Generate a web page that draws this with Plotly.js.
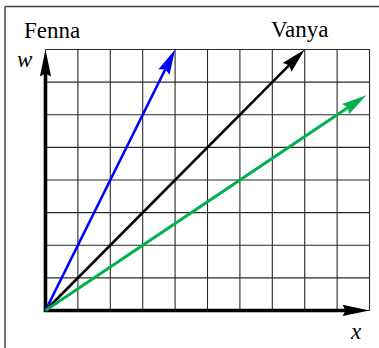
<!DOCTYPE html>
<html><head><meta charset="utf-8">
<script src="https://cdn.plot.ly/plotly-3.0.1.min.js"></script>
<style>html,body{margin:0;padding:0;background:#fff;} #chart{width:379px;height:348px;}</style>
</head><body><div id="chart"></div>
<script>
// ---- data ----
const vectorNames = ['Fenna', 'Vanya', 'Third'];
const vectorX = [4, 8, 9.9];
const vectorY = [8, 8, 6.6];
const vectorColors = ['#0000ff', '#000000', '#00b050'];
const vectorWidths = [2.6, 2.6, 3];
const gridX = [0, 1, 2, 3, 4, 5, 6, 7, 8, 9, 10];
const gridY = [0, 1, 2, 3, 4, 5, 6, 7, 8];
const xAxisLabel = 'x';
const yAxisLabel = 'w';
const nameLabels = ['Fenna', 'Vanya'];

// ---- layout geometry ----
const W = 379, H = 348;
const xMax = gridX[gridX.length - 1], yMax = gridY[gridY.length - 1];
const pad = 0.2;
const plotL = 45, plotR = 369.3, plotT = 50, plotB = 310.7;
const kx = (plotR - plotL) / xMax, ky = (plotB - plotT) / yMax;
const margin = {l: plotL - pad * kx, r: W - plotR - pad * kx, t: plotT - pad * ky, b: H - plotB - pad * ky, pad: 0};
const pw = W - margin.l - margin.r, ph = H - margin.t - margin.b;
const px2paperX = px => (px - margin.l) / pw;
const py2paperY = py => (H - margin.b - py) / ph;

function headGeom(x0, y0, x1, y1, L, h, notch) {
  const dx = (x1 - x0) * kx, dy = -(y1 - y0) * ky;
  const len = Math.hypot(dx, dy), ux = dx / len, uy = dy / len;
  const nx = -uy, ny = ux;
  const off = [[0, 0], [-L * ux + h * nx, -L * uy + h * ny], [-(L - notch) * ux, -(L - notch) * uy], [-L * ux - h * nx, -L * uy - h * ny]];
  const pts = off.map(p => [x1 + p[0] / kx, y1 - p[1] / ky]);
  const path = 'M' + pts.map(p => p[0] + ',' + p[1]).join(' L') + ' Z';
  return {path: path, base: pts[2]};
}

const traces = [];
const shapes = [];

// grid
gridX.forEach(v => shapes.push({type: 'line', xref: 'x', yref: 'y', x0: v, x1: v, y0: 0, y1: yMax, layer: 'below', line: {color: '#2a2a2a', width: 1.1}}));
gridY.forEach(v => shapes.push({type: 'line', xref: 'x', yref: 'y', x0: 0, x1: xMax, y0: v, y1: v, layer: 'below', line: {color: '#2a2a2a', width: 1.1}}));

// axes arrows
const HL = 27, HW = 5.6, HN = 3;
const hx = headGeom(0, 0, xMax, 0, HL, HW, HN);
const hy = headGeom(0, 0, 0, yMax, HL, HW, HN);
traces.push({type: 'scatter', mode: 'lines', x: [0, 0, hx.base[0]], y: [hy.base[1], 0, 0], line: {color: '#000', width: 3.6}, hoverinfo: 'skip'});
shapes.push({type: 'path', xref: 'x', yref: 'y', path: hx.path, fillcolor: '#000', line: {width: 0}, layer: 'above'});
shapes.push({type: 'path', xref: 'x', yref: 'y', path: hy.path, fillcolor: '#000', line: {width: 0}, layer: 'above'});

// vectors
vectorX.forEach((vx, i) => {
  const g = headGeom(0, 0, vx, vectorY[i], 25, 6.2, 3);
  traces.push({type: 'scatter', mode: 'lines', name: vectorNames[i], x: [0, g.base[0]], y: [0, g.base[1]], line: {color: vectorColors[i], width: vectorWidths[i]}, hoverinfo: 'skip'});
  shapes.push({type: 'path', xref: 'x', yref: 'y', path: g.path, fillcolor: vectorColors[i], line: {width: 0}, layer: 'above'});
});

// outer border (top and left)
shapes.push({type: 'line', xref: 'paper', yref: 'paper', x0: px2paperX(4.5), x1: px2paperX(382), y0: py2paperY(7), y1: py2paperY(7), line: {color: '#444', width: 1.5}});
shapes.push({type: 'line', xref: 'paper', yref: 'paper', x0: px2paperX(4.5), x1: px2paperX(4.5), y0: py2paperY(7), y1: py2paperY(352), line: {color: '#444', width: 1.5}});

const serif = 'Liberation Serif, Times New Roman, serif';
const annotations = [
  {text: nameLabels[0], x: px2paperX(51.5), y: py2paperY(30.5)},
  {text: nameLabels[1], x: px2paperX(298.8), y: py2paperY(30)},
  {text: '<i>' + yAxisLabel + '</i>', x: px2paperX(25), y: py2paperY(59.5)},
  {text: '<i>' + xAxisLabel + '</i>', x: px2paperX(355.7), y: py2paperY(331.5)}
].map(a => Object.assign({xref: 'paper', yref: 'paper', xanchor: 'center', yanchor: 'middle', showarrow: false, font: {family: serif, size: 23, color: '#000'}}, a));

const layout = {
  width: W, height: H, margin: margin, showlegend: false,
  paper_bgcolor: '#fff', plot_bgcolor: '#fff',
  xaxis: {range: [-pad, xMax + pad], showgrid: false, zeroline: false, showticklabels: false, ticks: '', showline: false, fixedrange: true},
  yaxis: {range: [-pad, yMax + pad], showgrid: false, zeroline: false, showticklabels: false, ticks: '', showline: false, fixedrange: true},
  shapes: shapes, annotations: annotations
};
Plotly.newPlot('chart', traces, layout, {staticPlot: true, displayModeBar: false});
</script></body></html>
